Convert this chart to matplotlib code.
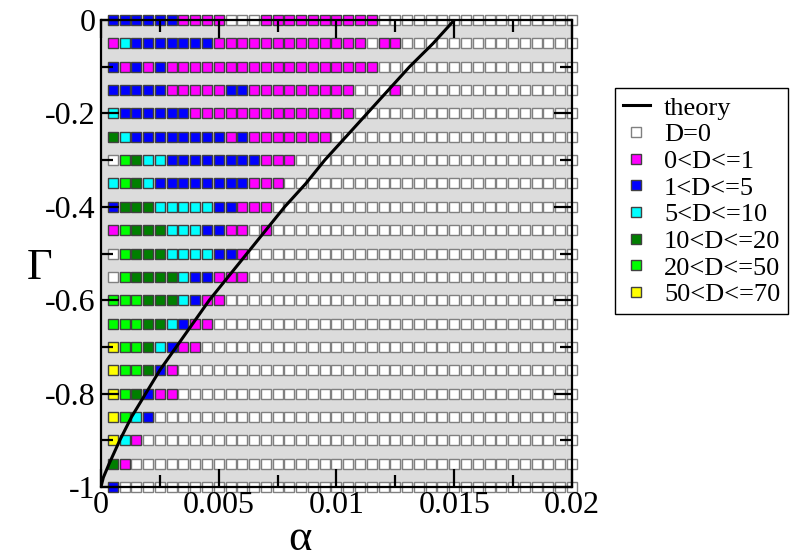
import numpy as np
import matplotlib
matplotlib.use("Agg")
import matplotlib.pyplot as plt

# alpha grid (columns) and Gamma grid (rows, top to bottom)
ALPHA = [0.0005 * k for k in range(1, 41)]
GAMMA = [0, -0.05, -0.1, -0.15, -0.2, -0.25, -0.3, -0.35, -0.4, -0.45, -0.5,
         -0.55, -0.6, -0.65, -0.7, -0.75, -0.8, -0.85, -0.9, -0.95, -1]
# D class per cell, one string per Gamma row; cells not listed are D=0 (W)
ROWS = ["BBBBBBMMMMWWWMMMMMMMMMM",
        "MCBBBBBBBMMMMMMMMMMMMMWMM",
        "BMBMBMMMMMMMMMMMMMMMMMM",
        "BBBBBMMMMMBBMMMMMMMMMWWWM",
        "CBBBBBBMMMMMMMMMMMMMM",
        "GCBBBBBBBBMBMMMMMMM",
        "WLGCCBBBBBBBBMMM",
        "CLGCBBBBBBBBMMM",
        "BGGGCCCCCBBMMM",
        "MLGGGCCCBBMMWM",
        "WLGGGCCCCBBM",
        "WLGGGGCBBMMM",
        "LLLGGGCBMM",
        "LLLGGCBMM",
        "YLLGCBMM",
        "YLLGBM",
        "YLGBMM",
        "YLCB",
        "YCM",
        "GM",
        "B"]
CLASSES = ["W", "M", "B", "C", "G", "L", "Y"]
LABELS = ["D=0", "0<D<=1", "1<D<=5", "5<D<=10", "10<D<=20", "20<D<=50", "50<D<=70"]
COLORS = ["#ffffff", "#ff00ff", "#0000ff", "#00ffff", "#007f00", "#00ff00", "#ffff00"]

# theory curve
TH_GAMMA = [-1, -0.98, -0.95, -0.9, -0.85, -0.8, -0.75, -0.7, -0.65, -0.6, -0.55,
            -0.5, -0.45, -0.4, -0.35, -0.3, -0.25, -0.2, -0.15, -0.1, -0.05, 0]
TH_ALPHA = [0, 0.0001, 0.00035, 0.0008, 0.0013, 0.0019, 0.0025, 0.0032, 0.0039, 0.0046, 0.0054,
            0.0062, 0.0070, 0.0078, 0.0087, 0.0095, 0.0104, 0.0113, 0.0122, 0.0131, 0.0141, 0.015]

plt.rcParams["font.family"] = ["Liberation Serif", "DejaVu Serif"]
plt.rcParams["axes.unicode_minus"] = False

fig = plt.figure(figsize=(7.95, 5.59), dpi=100)
ax = fig.add_axes([0.127, 0.129, 0.5925, 0.835])
ax.set_facecolor("#dcdcdc")

ax.plot(TH_ALPHA, TH_GAMMA, color="black", lw=2.2, zorder=4, label="theory")

codes = np.array([list(r.ljust(len(ALPHA), "W")) for r in ROWS])
aa, gg = np.meshgrid(ALPHA, GAMMA)
for c, lab, col in zip(CLASSES, LABELS, COLORS):
    m = codes == c
    edge = "#808080" if c == "W" else "#404040"
    ax.plot(aa[m], gg[m], ls="none", marker="s", ms=7.3, mfc=col, mec=edge,
            mew=1.0, clip_on=False, zorder=2, label=lab)

ax.set_xlim(0, 0.02)
ax.set_ylim(-1, 0)
ax.set_xticks([0, 0.005, 0.01, 0.015, 0.02])
ax.set_xticklabels(["0", "0.005", "0.01", "0.015", "0.02"])
ax.set_xticks([0.0025, 0.0075, 0.0125, 0.0175], minor=True)
ax.set_yticks([0, -0.2, -0.4, -0.6, -0.8, -1])
ax.set_yticklabels(["0", "-0.2", "-0.4", "-0.6", "-0.8", "-1"])
ax.set_yticks([-0.1, -0.3, -0.5, -0.7, -0.9], minor=True)
ax.tick_params(which="both", direction="in", top=True, right=True, width=1.6,
               labelsize=23, pad=3)
ax.tick_params(axis="y", pad=4)
ax.tick_params(which="major", length=13)
ax.tick_params(which="minor", length=8.5)
ax.set_axisbelow(False)
for s in ax.spines.values():
    s.set_linewidth(1.6)
    s.set_zorder(3)

ax.set_xlabel("α", fontsize=32)
ax.xaxis.set_label_coords(0.4225, -0.112)
ax.xaxis.label.set_va("center")
ax.set_ylabel("Γ", fontsize=32, rotation=0, ha="center", va="center")
ax.yaxis.set_label_coords(-0.13, 0.469)

leg = fig.legend(loc="upper left", bbox_to_anchor=(0.774, 0.842), fontsize=19,
                 frameon=True, fancybox=False, edgecolor="black", framealpha=1,
                 handlelength=1.0, handletextpad=0.55, borderpad=0.3,
                 labelspacing=0.12, borderaxespad=0)
leg.get_frame().set_linewidth(1.0)

fig.savefig("out.png", dpi=100)
